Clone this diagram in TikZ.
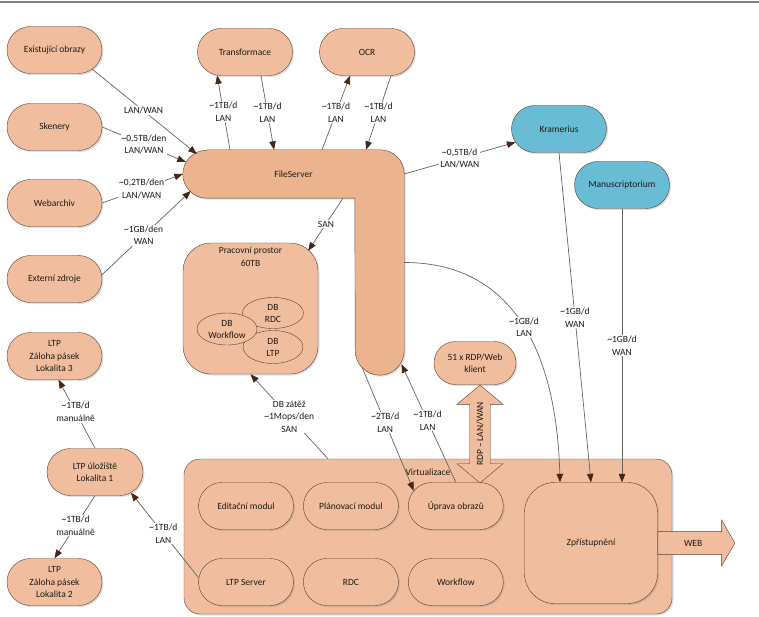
\documentclass[tikz,border=0pt]{standalone}
\usepackage{fontspec}
\setmainfont{Carlito}
\usetikzlibrary{arrows.meta, positioning, calc, shadows, shapes.misc, shapes.geometric, shapes.arrows, backgrounds}
\definecolor{peach}{RGB}{240,190,158}
\definecolor{fsbody}{RGB}{236,180,142}
\definecolor{kblue}{RGB}{104,188,212}
\definecolor{edge}{RGB}{92,62,46}
\definecolor{wire}{RGB}{100,100,100}
\definecolor{tipc}{RGB}{70,38,22}
\definecolor{ink}{RGB}{30,24,20}
\newcommand{\apx}{\textasciitilde}

\begin{document}
\begin{tikzpicture}[x=1pt, y=-1pt, font=\fontsize{9.5}{12.5}\selectfont, text=ink,
        pill/.style={rounded rectangle, draw=edge, fill=peach, minimum width=97pt, minimum height=47pt,
                     inner sep=1pt, align=center, drop shadow={opacity=0.25, shadow xshift=1.5pt, shadow yshift=-1.5pt}},
        bluepill/.style={pill, fill=kblue},
        box/.style={rectangle, rounded corners=28pt, draw=edge, fill=peach, align=center,
                    drop shadow={opacity=0.25, shadow xshift=1.5pt, shadow yshift=-1.5pt}},
        db/.style={ellipse, draw=edge, fill=peach, inner sep=0pt, align=center, font=\fontsize{9.5}{12}\selectfont},
        lbl/.style={fill=white, inner sep=1pt, align=center},
        link/.style={draw=wire, line width=0.7pt, -{Triangle[length=8.5pt, width=6.5pt, color=tipc]}}
    ]
        \useasboundingbox (0,0) rectangle (759,617);
        \draw[gray, line width=1.3pt] (0,2) -- (759,2);

        % sources
        \node[pill] (exi) at (54.5,50)  {Existující obrazy};
        \node[pill] (ske) at (54.5,127) {Skenery};
        \node[pill] (web) at (54.5,203) {Webarchiv};
        \node[pill] (ext) at (54.5,279) {Externí zdroje};
        \node[pill] (tra) at (245,52)   {Transformace};
        \node[pill] (ocr) at (367,52)   {OCR};
        \node[bluepill] (kra) at (559,129) {Kramerius};
        \node[bluepill] (man) at (622,185) {Manuscriptorium};

        % file server (L shape)
        \node[minimum width=221pt, minimum height=48pt, inner sep=0pt] (fsh) at (293.5,174) {FileServer};
        \node[minimum width=49pt, minimum height=225pt, inner sep=0pt] (fsv) at (379.5,262.5) {};
        \begin{scope}[on background layer]
            \draw[draw=edge, fill=fsbody, drop shadow={opacity=0.25, shadow xshift=1.5pt, shadow yshift=-1.5pt}]
                ([xshift=24pt]fsh.north west) -- ([xshift=-24pt]fsv.north east)
                arc[start angle=90, end angle=0, radius=24pt] -- ([yshift=24.5pt]fsv.south east)
                arc[start angle=0, end angle=-180, radius=24.5pt] -- (fsv.west |- fsh.south)
                -- ([xshift=24pt]fsh.south west) arc[start angle=270, end angle=90, radius=24pt] -- cycle;
        \end{scope}

        % working space
        \node[box, minimum width=135pt, minimum height=131pt] (pp) at (250.5,308.5) {};
        \node[align=center, below=1pt of pp.north] (ppt) {Pracovní prostor\\60TB};
        \node[db, minimum width=61pt, minimum height=31pt] (dbrdc) at (273,313) {DB\\RDC};
        \node[db, minimum width=60pt, minimum height=33pt] (dbltp) at (273,347) {DB\\LTP};
        \node[db, minimum width=60pt, minimum height=32pt] (dbwf) at (227,329) {DB\\Workflow};

        \node[pill, minimum width=84pt, minimum height=43pt] (kli) at (475,363) {51 x RDP/Web\\klient};

        % LTP
        \node[pill] (l3) at (54.5,356) {LTP\\Záloha pásek\\Lokalita 3};
        \node[pill, minimum width=98pt] (l1) at (95,472) {LTP úložiště\\Lokalita 1};
        \node[pill] (l2) at (54.5,582) {LTP\\Záloha pásek\\Lokalita 2};

        % virtualisation
        \node[box, rounded corners=16pt, minimum width=488pt, minimum height=155pt] (vir) at (428,536.5) {};
        \node (virt) at (428,472) {Virtualizace};
        \node[pill] (edi) at (246,506) {Editační modul};
        \node[pill, right=9.5pt of edi] (pla) {Plánovací modul};
        \node[pill, right=9.5pt of pla] (upr) {Úprava obrazů};
        \node[pill] (lts) at (246,582) {LTP Server};
        \node[pill, right=9.5pt of lts] (rdc) {RDC};
        \node[pill, right=9.5pt of rdc] (wfl) {Workflow};
        \node[box, rounded corners=30pt, minimum width=133pt, minimum height=121pt] (zpr) at (591,543) {Zpřístupnění};
        \node[single arrow, draw=edge, fill=peach, anchor=tail, minimum height=77pt, minimum width=46pt,
              single arrow head extend=11.5pt, single arrow tip angle=120, inner ysep=8pt] (www) at (zpr.east) {WEB};
        \node[double arrow, draw=edge, fill=peach, rotate=90, minimum height=98pt, minimum width=46pt,
              double arrow head extend=12pt, double arrow tip angle=100, inner ysep=6pt] (rdp) at (480,434) {RDP -- LAN/WAN};

        % inputs
        \draw[link] (exi.-27) -- node[lbl, pos=.49] {LAN/WAN} ([xshift=14pt, yshift=20pt]fsh.west);
        \draw[link] (ske.east) -- node[lbl, pos=.5] {\apx0,5TB/den\\LAN/WAN} ([xshift=3pt, yshift=12pt]fsh.west);
        \draw[link] (web.east) -- node[lbl, pos=.49] {\apx0,2TB/den\\LAN/WAN} (fsh.west);
        \draw[link] (ext.5) -- node[lbl, pos=.47] {\apx1GB/den\\WAN} ([xshift=8pt, yshift=-17pt]fsh.west);

        \draw[link] ([xshift=-63.5pt]fsh.north) -- node[lbl, pos=.51] {\apx1TB/d\\LAN} (tra.-140);
        \draw[link] ([xshift=16pt]tra.south) -- node[lbl] {\apx1TB/d\\LAN} ([xshift=-19.5pt]fsh.north);
        \draw[link] ([xshift=28.5pt]fsh.north) -- node[lbl] {\apx1TB/d\\LAN} ([xshift=-17pt]ocr.south);
        \draw[link] ([xshift=24pt]ocr.south) -- node[lbl] {\apx1TB/d\\LAN} ([xshift=72.5pt]fsh.north);

        \draw[link] (fsh.east) -- node[lbl] {\apx0,5TB/d\\LAN/WAN} (kra.-163);
        \draw[link] ([xshift=49.5pt]fsh.south) -- node[lbl, pos=.49] {SAN} ([xshift=-10pt, yshift=-8pt]pp.north east);
        \draw[link] ([xshift=-100pt]vir.north) -- node[lbl] {DB zátěž\\\apx1Mops/den\\SAN} (pp.south);

        % to editing
        \draw[link] ([xshift=-17.5pt, yshift=8pt]fsv.south) -- node[lbl, pos=.45] {\apx2TB/d\\LAN} (upr.160);
        \draw[link] (upr.north) -- node[lbl, pos=.52] {\apx1TB/d\\LAN} ([xshift=22pt, yshift=11pt]fsv.south);

        % publishing
        \draw[link] (fsv.east) .. controls +(115,0) and +(-3,-120) .. node[lbl] {\apx1GB/d\\LAN} ([xshift=-31pt]zpr.north);
        \draw[link] (kra.south) -- node[lbl] {\apx1GB/d\\WAN} (zpr.north);
        \draw[link] (man.south) -- node[lbl] {\apx1GB/d\\WAN} ([xshift=31pt]zpr.north);

        % long term preservation
        \draw[link] (lts.175) -- node[lbl, pos=.52] {\apx1TB/d\\LAN} (l1.-30);
        \draw[link] (l1.north) -- node[lbl, pos=.53] {\apx1TB/d\\manuálně} ([xshift=4pt]l3.south);
        \draw[link] (l1.south) -- node[lbl, pos=.48] {\apx1TB/d\\manuálně} (l2.north);
    \end{tikzpicture}
\end{document}
